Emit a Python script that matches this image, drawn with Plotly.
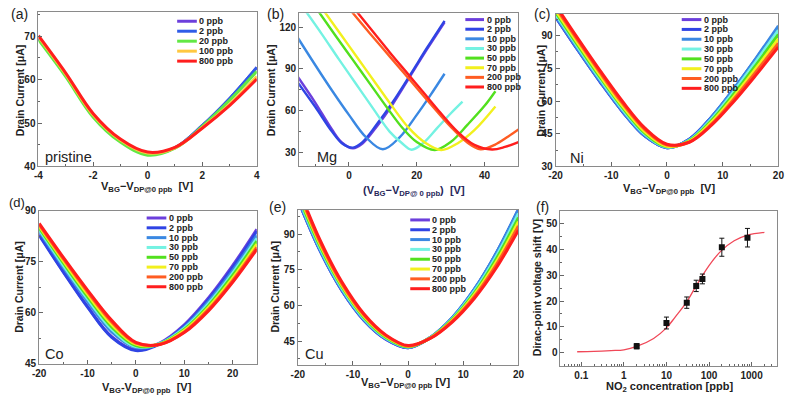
import plotly.graph_objects as go

W, H = 791, 401
FONT = "Liberation Sans, Arial, sans-serif"

# ---------------- data ----------------
# (a) pristine
a_x = [-4, -3, -2, -1, 0, 1, 2, 3, 4]
a_labels = ["0 ppb", "2 ppb", "20 ppb", "100 ppb", "800 ppb"]
a_0 = [69.5, 61.0, 51.7, 45.9, 42.9, 44.3, 49.4, 55.6, 62.8]
a_2 = [69.5, 61.0, 51.7, 45.9, 42.9, 44.3, 49.4, 55.6, 62.8]
a_20 = [69.2, 60.7, 51.4, 45.6, 42.6, 44.2, 49.2, 55.2, 61.9]
a_100 = [69.8, 61.2, 51.9, 46.1, 43.1, 44.3, 48.9, 54.3, 60.7]
a_800 = [70.1, 61.5, 52.2, 46.3, 43.3, 44.4, 48.8, 54.0, 60.1]

# (b) Mg
labels8 = ["0 ppb", "2 ppb", "10 ppb", "30 ppb", "50 ppb", "70 ppb", "200 ppb", "800 ppb"]
b_x0 = [-15, -10, -5, -2, 1.2, 4, 8, 13, 18, 23, 28.2]
b_y0 = [84, 66, 46.5, 37, 33, 36.5, 48, 65, 84.5, 104, 123.5]
b_x2 = [-15, -10, -5, -2, 1.2, 4, 8, 13, 18, 23, 28.2]
b_y2 = [80, 63, 45, 36.5, 33.5, 37.5, 49.5, 66.5, 85.5, 105, 124.5]
b_x10 = [-15, -10, -5, 0, 5, 10, 15, 20, 24, 28.2]
b_y10 = [112, 93, 74.5, 57, 41, 32.3, 41, 57, 71, 86.5]
b_x30 = [-13.5, -8, -3, 2, 7, 12, 15.5, 18.5, 22, 26, 30, 33.5]
b_y30 = [134, 115, 97, 79.5, 62, 45, 37, 32, 37, 47.5, 58, 66.5]
b_x50 = [-9.5, -4, 1, 6, 11, 16, 20, 25.3, 30, 35, 40, 43.2]
b_y50 = [133, 114, 97, 80, 63, 47, 37.5, 31.8, 37.5, 50, 63.5, 74]
b_x70 = [-7.5, -2.5, 2.5, 7.5, 12.5, 17.5, 22.5, 27.2, 32, 37, 43.2]
b_y70 = [132, 115, 98, 81, 64, 48, 37, 31.8, 36.5, 46, 63]
b_x200 = [0.5, 6, 12, 18, 24, 30, 35, 38.8, 43, 47, 50]
b_y200 = [132, 116, 99, 82, 65, 48.5, 37, 32.3, 35.5, 41.5, 46.5]
b_x800 = [2, 7, 12, 17, 22, 27, 32, 37, 42.2, 46, 50]
b_y800 = [132, 117, 102, 87.5, 73, 58.5, 45, 35.5, 32.2, 34, 37.5]

# (c) Ni
c_x = [-20, -16, -12, -8, -4, 0, 4, 8, 12, 16, 20]
c_0 = [98.6, 83.4, 68.8, 55.2, 44.0, 38.6, 42.5, 52.6, 65.3, 79.2, 93.5]
c_2 = [98.6, 83.4, 68.8, 55.2, 44.0, 38.6, 42.5, 52.7, 65.5, 79.4, 93.8]
c_10 = [98.9, 83.7, 69.1, 55.4, 44.1, 38.6, 42.3, 52.6, 65.6, 79.7, 94.5]
c_30 = [99.8, 84.7, 70.0, 56.2, 44.8, 38.9, 42.0, 51.8, 64.4, 78.2, 92.5]
c_50 = [100.8, 85.6, 70.9, 57.1, 45.4, 39.1, 41.8, 51.1, 63.2, 76.6, 90.5]
c_70 = [101.6, 86.5, 71.7, 57.8, 46.0, 39.3, 41.5, 50.3, 62.0, 75.0, 88.5]
c_200 = [103.0, 87.8, 73.0, 59.0, 47.0, 39.8, 41.2, 49.4, 60.8, 73.4, 86.5]
c_800 = [104.0, 88.7, 73.9, 59.9, 47.7, 40.2, 41.1, 48.9, 59.8, 72.0, 84.8]

# (d) Co
d_x = [-20, -15, -10, -5, 0, 5, 10, 15, 20, 25]
d_0 = [83.1, 72.2, 61.9, 53.0, 49.1, 51.2, 56.5, 64.4, 73.9, 84.6]
d_2 = [82.8, 72.0, 61.7, 52.8, 48.9, 50.9, 56.1, 63.9, 73.3, 84.0]
d_10 = [84.1, 73.4, 63.3, 54.4, 49.8, 51.0, 55.8, 63.3, 72.4, 82.8]
d_30 = [84.5, 74.0, 64.1, 55.2, 50.1, 51.0, 55.5, 62.7, 71.7, 81.9]
d_50 = [85.0, 74.7, 64.8, 55.9, 50.4, 50.9, 55.1, 62.1, 71.0, 81.1]
d_70 = [85.5, 75.3, 65.5, 56.6, 50.8, 50.8, 54.8, 61.6, 70.2, 80.2]
d_200 = [86.0, 75.9, 66.2, 57.3, 51.1, 50.8, 54.4, 61.0, 69.5, 79.3]
d_800 = [86.3, 76.3, 66.7, 57.8, 51.3, 50.7, 54.2, 60.6, 69.0, 78.7]

# (e) Cu
e_x = [-20, -16, -12, -8, -4, 0, 4, 8, 12, 16, 20]
e_0 = [104.5, 83.1, 66.2, 53.7, 45.7, 42.2, 46.4, 54.7, 66.6, 81.8, 100.0]
e_2 = [104.6, 83.2, 66.3, 53.8, 45.8, 42.2, 46.5, 54.8, 66.7, 82.0, 100.3]
e_10 = [104.7, 83.3, 66.4, 53.9, 45.9, 42.3, 46.5, 54.8, 66.8, 82.1, 100.5]
e_30 = [105.7, 84.2, 67.1, 54.4, 46.2, 42.5, 46.4, 54.4, 66.0, 80.8, 98.7]
e_50 = [106.7, 85.0, 67.8, 54.9, 46.5, 42.6, 46.3, 54.1, 65.2, 79.6, 96.9]
e_70 = [107.8, 85.9, 68.4, 55.4, 46.9, 42.8, 46.3, 53.7, 64.5, 78.3, 95.2]
e_200 = [108.8, 86.7, 69.1, 55.9, 47.2, 42.9, 46.2, 53.4, 63.7, 77.1, 93.4]
e_800 = [109.8, 87.6, 69.8, 56.4, 47.5, 43.1, 46.1, 53.0, 62.9, 75.8, 91.6]

# (f) Dirac point shift vs NO2
f_conc = [2, 10, 30, 50, 70, 200, 800]
f_shift = [2.5, 11.5, 19.4, 25.9, 28.6, 40.9, 44.6]
f_err = [1.0, 2.3, 2.2, 2.2, 1.9, 3.5, 3.6]
fit_x = [0.08, 0.2, 0.5, 1, 2, 5, 10, 16, 30, 47, 66, 100, 190, 390, 800, 2000]
fit_y = [0.35, 0.5, 0.8, 1.1, 2.4, 5.5, 9.6, 13.8, 19.7, 25.2, 29.2, 33.8, 39.4, 43.4, 45.6, 46.7]

# ---------------- styles ----------------
COL8 = ["#6c3fdc", "#2f44e4", "#3a88e2", "#74f2e2", "#52e01e", "#f2f01e", "#ff5c22", "#ff1e1e"]
COLA = ["#6c3fdc", "#2f5ce8", "#62e844", "#ffc840", "#ff1e1e"]


def px_x(p):
    return p / W


def px_y(p):
    return 1 - p / H


fig = go.Figure()

panels = {
    "a": (32, 254, 7, 166),
    "b": (297, 520, 8.4, 166),
    "c": (557.7, 784.3, 9, 166),
    "d": (32.7, 254, 211.7, 369),
    "e": (295.7, 520, 211, 370),
    "f": (562.7, 783, 211.7, 370.7),
}
axis_ids = {"a": "", "b": "2", "c": "3", "d": "4", "e": "5", "f": "6"}


def add_lines(panel, xs_list, ys_list, colors, width):
    k = axis_ids[panel]
    for xs, ys, c in zip(xs_list, ys_list, colors):
        fig.add_trace(go.Scatter(x=xs, y=ys, mode="lines",
                                 line=dict(color=c, width=width, shape="spline", smoothing=1.0),
                                 xaxis="x" + k, yaxis="y" + k, showlegend=False,
                                 hoverinfo="skip"))


add_lines("a", [a_x] * 5, [a_0, a_2, a_20, a_100, a_800], COLA, 3)
add_lines("b", [b_x0, b_x2, b_x10, b_x30, b_x50, b_x70, b_x200, b_x800],
          [b_y0, b_y2, b_y10, b_y30, b_y50, b_y70, b_y200, b_y800], COL8, 2.4)
add_lines("c", [c_x] * 8, [c_0, c_2, c_10, c_30, c_50, c_70, c_200, c_800], COL8, 3)
add_lines("d", [d_x] * 8, [d_0, d_2, d_10, d_30, d_50, d_70, d_200, d_800], COL8, 3)
add_lines("e", [e_x] * 8, [e_0, e_2, e_10, e_30, e_50, e_70, e_200, e_800], COL8, 3)

# panel f
fig.add_trace(go.Scatter(x=fit_x, y=fit_y, mode="lines",
                         line=dict(color="#f04858", width=1.3, shape="spline", smoothing=1.0),
                         xaxis="x6", yaxis="y6", showlegend=False, hoverinfo="skip"))
fig.add_trace(go.Scatter(x=f_conc, y=f_shift, mode="markers",
                         marker=dict(symbol="square", size=6, color="#111"),
                         error_y=dict(type="data", array=f_err, visible=True,
                                      color="#111", thickness=1, width=2.5),
                         xaxis="x6", yaxis="y6", showlegend=False, hoverinfo="skip"))

tickfont = dict(family=FONT, size=10, color="#222", weight="bold")
axis_common = dict(showline=True, linecolor="#8a8a8a", linewidth=1, mirror=True,
                   ticks="inside", ticklen=4, tickwidth=1, tickcolor="#666",
                   showgrid=False, zeroline=False, tickfont=tickfont)


def minor(dt):
    return dict(ticks="inside", ticklen=2, tickwidth=1, tickcolor="#666", dtick=dt, showgrid=False)


cfg = {
    "a": dict(xr=[-4, 4], xt=[-4, -2, 0, 2, 4], xtt=["-4", "-2", "0", "2", "4"], xm=1,
              yr=[40, 75.6], yt=[40, 50, 60, 70], ym=5),
    "b": dict(xr=[-14.7, 50], xt=[0, 20, 40], xtt=["0", "20", "40"], xm=10,
              yr=[20, 130], yt=[30, 60, 90, 120], ym=15),
    "c": dict(xr=[-20, 20], xt=[-20, -10, 0, 10, 20], xtt=["-20", "-10", "0", "10", "20"], xm=5,
              yr=[30, 100], yt=[30, 45, 60, 75, 90], ym=7.5),
    "d": dict(xr=[-20, 25], xt=[-20, -10, 0, 10, 20], xtt=["-20", "-10", "0", "10", "20"], xm=5,
              yr=[45, 90], yt=[45, 60, 75, 90], ym=7.5),
    "e": dict(xr=[-20, 20], xt=[-20, -10, 0, 10, 20], xtt=["-20", "-10", "0", "10", "20"], xm=5,
              yr=[35, 100], yt=[45, 60, 75, 90], ym=7.5),
}

layout = dict(width=W, height=H, margin=dict(l=0, r=0, t=0, b=0),
              paper_bgcolor="white", plot_bgcolor="white", showlegend=False,
              font=dict(family=FONT, color="#222"))

for p, (x0, x1, y0, y1) in panels.items():
    k = axis_ids[p]
    xd = [px_x(x0), px_x(x1)]
    yd = [px_y(y1), px_y(y0)]
    if p != "f":
        c = cfg[p]
        layout["xaxis" + k] = dict(axis_common, domain=xd, anchor="y" + k, range=c["xr"],
                                   tickmode="array", tickvals=c["xt"], ticktext=c["xtt"],
                                   minor=minor(c["xm"]))
        layout["yaxis" + k] = dict(axis_common, domain=yd, anchor="x" + k, range=c["yr"],
                                   tickmode="array", tickvals=c["yt"], minor=minor(c["ym"]))
    else:
        mt = []
        for dec in [0.01, 0.1, 1, 10, 100, 1000]:
            for m in range(2, 10):
                mt.append(dec * m)
        layout["xaxis6"] = dict(axis_common, domain=xd, anchor="y6", type="log",
                                range=[-1.49, 3.6], tickmode="array",
                                tickvals=[0.1, 1, 10, 100, 1000],
                                ticktext=["0.1", "1", "10", "100", "1000"],
                                minor=dict(ticks="inside", ticklen=2, tickwidth=1,
                                           tickcolor="#666", tickmode="array", tickvals=mt))
        layout["yaxis6"] = dict(axis_common, domain=yd, anchor="x6", range=[-5, 55],
                                tickmode="array", tickvals=[0, 10, 20, 30, 40, 50],
                                minor=minor(5))

fig.update_layout(**layout)

annotations = []
shapes = []


def ann(x, y, text, size=10.5, bold=True, angle=0, xanchor="center", yanchor="middle", color="#222"):
    annotations.append(dict(x=px_x(x), y=px_y(y), xref="paper", yref="paper", text=text,
                            showarrow=False, textangle=angle, xanchor=xanchor, yanchor=yanchor,
                            font=dict(family=FONT, size=size, color=color,
                                      weight="bold" if bold else "normal")))


# panel labels
for lab, (x, y) in {"(a)": (2, 9), "(b)": (262, 9), "(c)": (534, 9),
                    "(e)": (264, 208), "(f)": (536, 208)}.items():
    ann(x, y, lab, size=14, bold=False, xanchor="left")
ann(0, 203, "(d)", size=13, bold=False, xanchor="left")

# material labels
for lab, (x, y) in {"pristine": (37, 156), "Mg": (313, 156), "Ni": (570, 157),
                    "Co": (37, 359), "Cu": (301, 359)}.items():
    ann(x, y, lab, size=14.5, bold=False, xanchor="left")

# y titles
ann(13, 88, "Drain Current [μA]", angle=-90)
ann(268, 88, "Drain Current [μA]", angle=-90)
ann(542, 88, "Drain Current [μA]", angle=-90)
ann(12, 290, "Drain Current [μA]", angle=-90)
ann(273, 290, "Drain Current [μA]", angle=-90)
ann(539, 291, "Dirac-point voltage shift [V]", angle=-90)

# x titles
ann(142, 187, "V<sub>BG</sub>−V<sub>DP@0 ppb</sub>&nbsp;&nbsp;[V]", size=11)
ann(414, 191, "(V<sub>BG</sub>−V<sub>DP@ 0 ppb</sub>)&nbsp;&nbsp;[V]", size=11, color="#26265a")
ann(673, 189, "V<sub>BG</sub>−V<sub>DP@0 ppb</sub>&nbsp;&nbsp;[V]", size=11)
ann(142, 394, "V<sub>BG</sub>-V<sub>DP@0 ppb</sub>&nbsp;&nbsp;[V]", size=11)
ann(405, 389, "V<sub>BG</sub>−V<sub>DP@0 ppb</sub> [V]", size=11)
ann(674, 393, "NO<sub>2</sub> concentration [ppb]", size=11)


def legend(xl0, xl1, ytop, dy, labels, colors):
    for i, (lab, c) in enumerate(zip(labels, colors)):
        yy = ytop + i * dy
        shapes.append(dict(type="line", xref="paper", yref="paper",
                           x0=px_x(xl0), x1=px_x(xl1), y0=px_y(yy), y1=px_y(yy),
                           line=dict(color=c, width=3)))
        ann(xl1 + 0.5, yy, lab, size=9, bold=True, xanchor="left")


legend(173, 193, 16.7, 10.25, a_labels, COLA)
legend(466, 485, 15, 9.9, labels8, COL8)
legend(686, 706, 15, 10.1, labels8, COL8)
legend(142, 162, 219, 10.1, labels8, COL8)
legend(410, 430, 221, 10.1, labels8, COL8)

fig.update_layout(annotations=annotations, shapes=shapes)
fig.write_html("out.html")
